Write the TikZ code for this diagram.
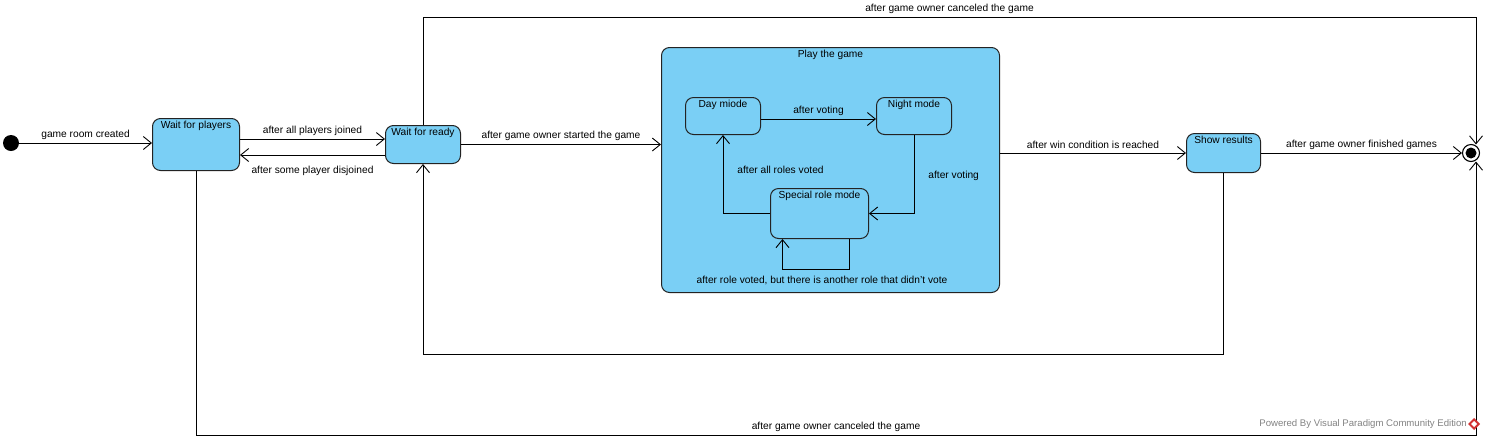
\documentclass[tikz,border=0pt]{standalone}
\usepackage{fontspec}
\setmainfont{Liberation Sans}
\usetikzlibrary{arrows.meta}
\definecolor{stfill}{RGB}{122,207,245}
\definecolor{stline}{RGB}{35,35,35}
\definecolor{wm}{RGB}{130,130,130}
\definecolor{wmred}{RGB}{210,50,50}
\begin{document}
\begin{tikzpicture}[x=1pt,y=-1pt, font=\fontsize{10.2}{12}\selectfont,
 stbox/.style={draw=stline, fill=stfill, rounded corners=8pt, line width=1pt, inner sep=0pt, anchor=north west},
 ttl/.style={anchor=north, inner sep=0pt, yshift=-3pt},
 tr/.style={draw=black, line width=0.9pt, -{Straight Barb[length=8pt,width=13pt,line width=0.9pt]}},
 lbl/.style={inner sep=0pt}]
\useasboundingbox (0,0) rectangle (1487,440);
% nodes
\node[fill=black, circle, minimum size=16, inner sep=0] (init) at (11,143) {};
\node[stbox, minimum width=87, minimum height=52] (wp) at (152,118) {};
\node[ttl] at (wp.north) {Wait for players};
\node[stbox, minimum width=75, minimum height=38] (wr) at (385,125) {};
\node[ttl] at (wr.north) {Wait for ready};
\node[stbox, minimum width=338, minimum height=245] (pg) at (661,47) {};
\node[ttl] at (pg.north) {Play the game};
\node[stbox, minimum width=75, minimum height=37] (dm) at (685,97) {};
\node[ttl] at (dm.north) {Day miode};
\node[stbox, minimum width=75, minimum height=37] (nm) at (876,97) {};
\node[ttl] at (nm.north) {Night mode};
\node[stbox, minimum width=98, minimum height=50] (sr) at (770,188) {};
\node[ttl] at (sr.north) {Special role mode};
\node[stbox, minimum width=74, minimum height=39] (sh) at (1186,133) {};
\node[ttl] at (sh.north) {Show results};
\node[circle, draw=black, fill=white, line width=1.1pt, minimum size=17, inner sep=0] (fin) at (1471,153) {};
\node[circle, fill=black, minimum size=11, inner sep=0] at (fin) {};
\coordinate (topc) at (1476,17);
\coordinate (botc) at (1476,435);
\coordinate (rety) at (0,354);
\coordinate (loopy) at (0,269);
% transitions
\draw[tr] (init.east) -- node[lbl, above=3pt] {game room created} (init -| wp.west);
\draw[tr] (wp.east |- 0,139) -- node[lbl, above=3pt] {after all players joined} (wr.west |- 0,139);
\draw[tr] (wr.west |- 0,155) -- node[lbl, below=11pt] {after some player disjoined} (wp.east |- 0,155);
\draw[tr] (wr.east) -- node[lbl, above=3pt] {after game owner started the game} (wr.east -| pg.west);
\draw[tr] (dm.east |- 0,119) -- node[lbl, above=3pt] {after voting} (nm.west |- 0,119);
\draw[tr] (nm.south) -- node[lbl, right=14pt, pos=0.52] {after voting} (nm.south |- sr.east) -- (sr.east);
\draw[tr] (sr.west) -- (sr.west -| dm.south) -- node[lbl, right=14pt, pos=0.56] {after all roles voted} (dm.south);
\draw[tr] ([xshift=30pt]sr.south) -- ([xshift=30pt]sr.south |- loopy) -- ([xshift=-37pt]sr.south |- loopy) -- ([xshift=-37pt]sr.south);
\node[lbl, anchor=north] at (822,276) {after role voted, but there is another role that didn't vote};
\draw[tr] (sh.west -| pg.east) -- node[lbl, above=4pt] {after win condition is reached} (sh.west);
\draw[tr] (sh.east) -- node[lbl, above=3pt] {after game owner finished games} (fin.west);
\draw[tr] (wr.north) -- (wr.north |- topc) -- node[lbl, above=3pt] {after game owner canceled the game} (topc) -- (topc |- fin.70);
\draw[tr] (wp.south) -- (wp.south |- botc) -- node[lbl, above=3pt] {after game owner canceled the game} (botc) -- (botc |- fin.-70);
\draw[tr] (sh.south) -- (sh.south |- rety) -- (wr.south |- rety) -- (wr.south);
% watermark
\node[anchor=east, inner sep=0, text=wm, font=\fontsize{9.6}{11}\selectfont] (wmk) at (1467,424) {Powered By Visual Paradigm Community Edition};
\fill[wmred] (1474,418) -- (1480,424) -- (1474,430) -- (1468,424) -- cycle;
\fill[white] (1474,421) -- (1477,424) -- (1474,427) -- (1471,424) -- cycle;
\end{tikzpicture}
\end{document}
